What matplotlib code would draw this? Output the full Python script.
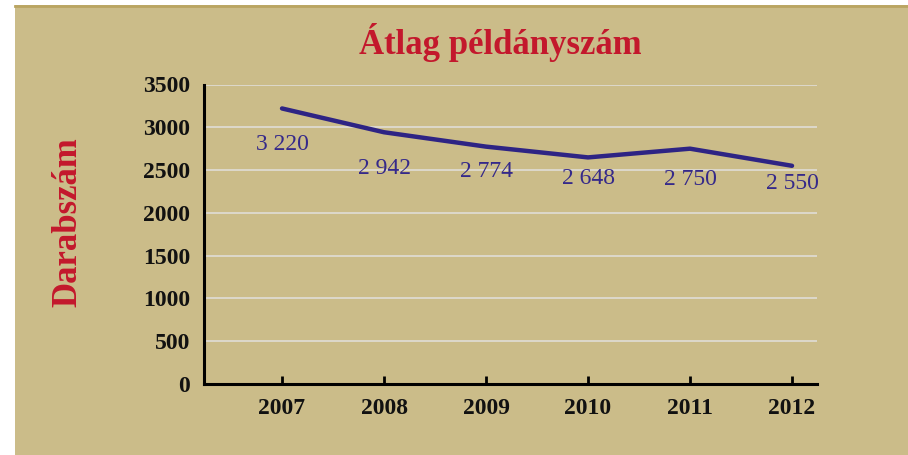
import matplotlib
matplotlib.use("Agg")
import matplotlib.pyplot as plt
from matplotlib.patches import Rectangle
from matplotlib.lines import Line2D

years = ["2007", "2008", "2009", "2010", "2011", "2012"]
values = [3220, 2942, 2774, 2648, 2750, 2550]
value_labels = ["3 220", "2 942", "2 774", "2 648", "2 750", "2 550"]
yticks = [0, 500, 1000, 1500, 2000, 2500, 3000, 3500]

# per-label vertical offsets (points, downward) to mimic source placement
label_offsets = [26, 26, 18, 15, 22, 13]

W, H = 908, 455
fig = plt.figure(figsize=(W / 100, H / 100), dpi=100)
fig.patch.set_facecolor("white")

bg = "#CBBC89"
fig.add_artist(Rectangle((15 / W, 0), 1 - 15 / W, (H - 5) / H,
                         transform=fig.transFigure, facecolor=bg,
                         edgecolor="none", zorder=0))
fig.add_artist(Line2D([15 / W, 1], [(H - 5.5) / H, (H - 5.5) / H],
                      transform=fig.transFigure, color="#BAA562", lw=2, zorder=1))

ax = fig.add_axes([204 / W, (H - 384) / H, (817 - 204) / W, (384 - 84.5) / H])
ax.set_facecolor("none")

serif = ["Liberation Serif", "DejaVu Serif"]
line_color = "#2E2484"
label_color = "#35298A"

x = list(range(len(years)))
ax.plot(x, values, color=line_color, lw=3.2, solid_capstyle="round",
        solid_joinstyle="round", zorder=3)

for xi, v, lab, off in zip(x, values, value_labels, label_offsets):
    ax.annotate(lab, (xi, v), xytext=(0, -off), textcoords="offset points",
                ha="center", va="center", color=label_color,
                fontsize=17, family=serif, zorder=4)

ax.set_xlim(-0.765, 5.245)
ax.set_ylim(0, 3500)
ax.set_yticks(yticks)
ax.set_yticklabels([str(t) for t in yticks])
ax.set_xticks(x)
ax.set_xticklabels(years)

ax.grid(axis="y", color="#DEDAD0", lw=1.3, zorder=1)
ax.set_axisbelow(True)

for s in ["top", "right"]:
    ax.spines[s].set_visible(False)
for s in ["left", "bottom"]:
    ax.spines[s].set_color("black")
    ax.spines[s].set_linewidth(2.2)

ax.tick_params(axis="y", length=0, pad=10)
ax.tick_params(axis="x", direction="in", length=6, width=2, pad=10)
for lbl in ax.get_xticklabels() + ax.get_yticklabels():
    lbl.set_family(serif)
    lbl.set_fontsize(17)
    lbl.set_fontweight("bold")
    lbl.set_color("#111111")

fig.text(500 / W, (H - 42) / H, "Átlag példányszám", ha="center", va="center",
         color="#C3182C", fontsize=25, fontweight="bold", family=serif)
fig.text(68 / W, (H - 222) / H, "Darabszám", ha="center", va="center",
         rotation=90, color="#C3182C", fontsize=25, fontweight="bold", family=serif)

fig.savefig("out.png", dpi=100, facecolor=fig.get_facecolor())
